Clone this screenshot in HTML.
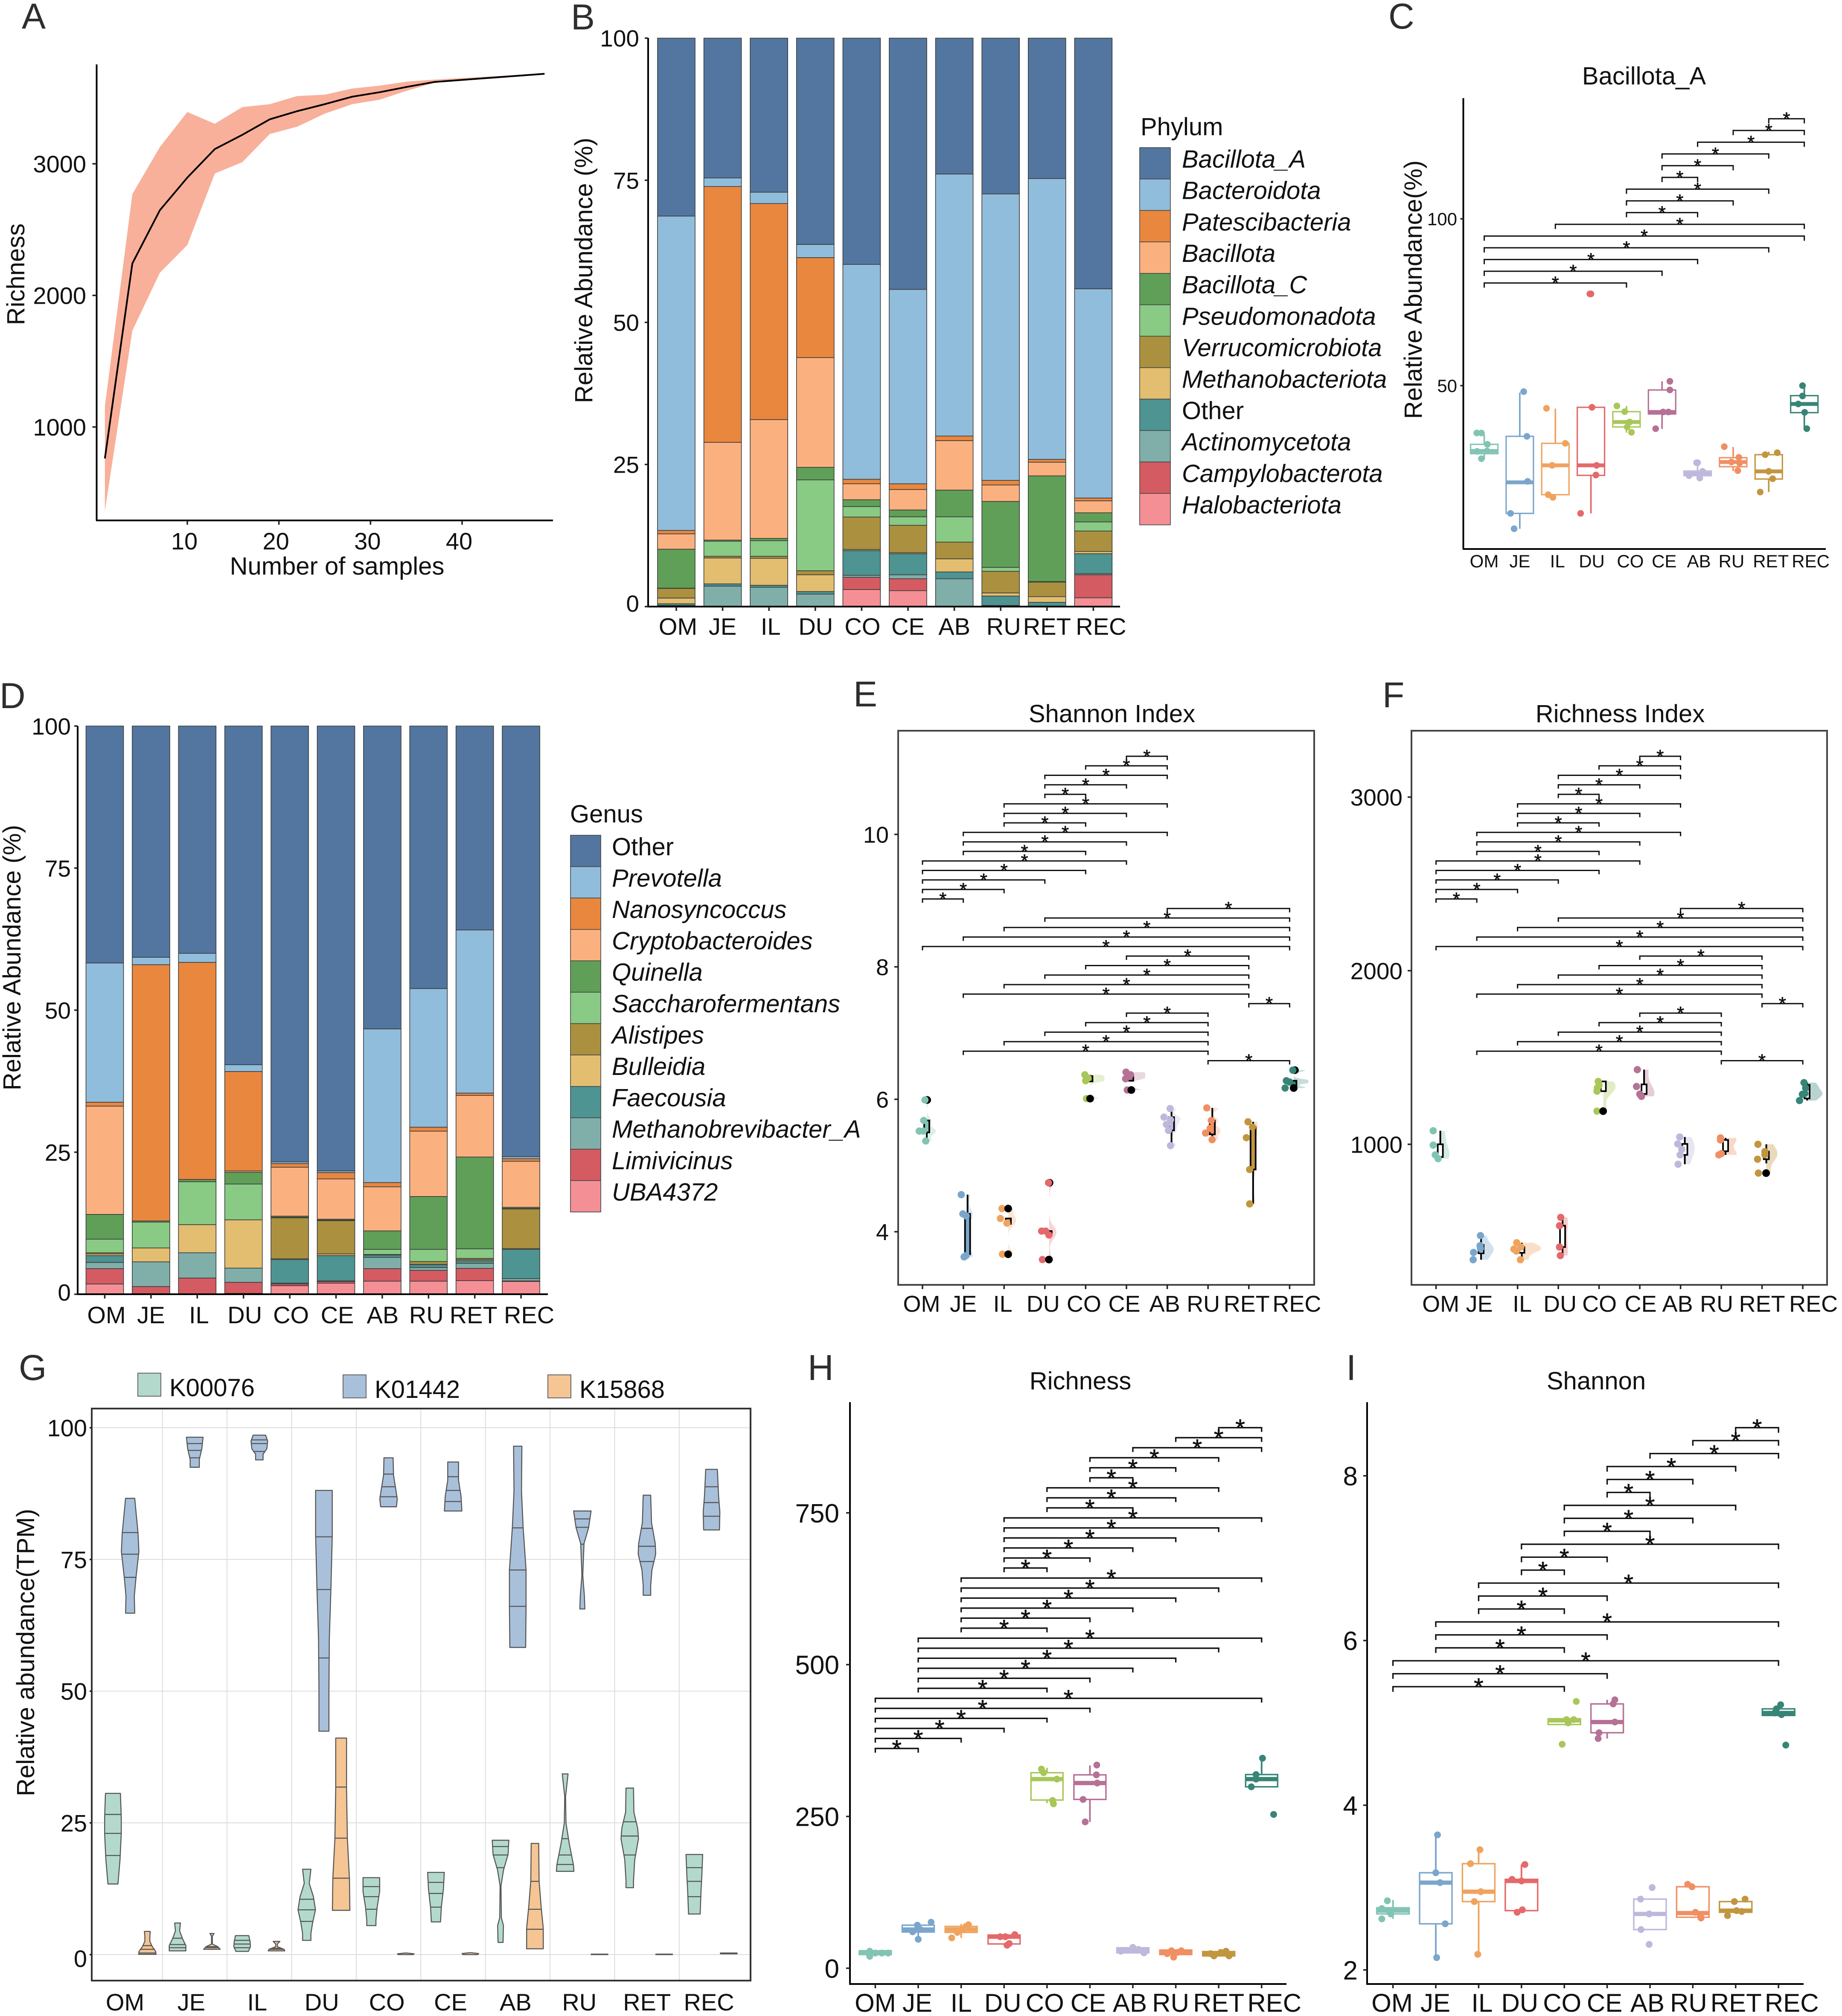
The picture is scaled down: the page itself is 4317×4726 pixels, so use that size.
<!DOCTYPE html>
<html lang="en">
<head>
<meta charset="utf-8">
<title>Microbiome multi-panel figure</title>
<style>
html,body{margin:0;padding:0;background:#fff;}
svg{display:block;font-family:"Liberation Sans",sans-serif;}
.letter{font-size:84px;fill:#2e2e2e;}
.ttl{font-size:58px;fill:#111;text-anchor:middle;}
</style>
</head>
<body>
<svg id="figure" width="4317" height="4726" viewBox="0 0 4317 4726">
<rect width="4317" height="4726" fill="#fff"/>

<g id="panel-a">
<text class="letter" x="51" y="67">A</text>
<text class="ttl" x="790" y="1347">Number of samples</text>
<text class="ttl" transform="translate(57 643) rotate(-90)">Richness</text>
</g>

<g id="panel-b">
<text class="letter" x="1338" y="69">B</text>
<text class="ttl" transform="translate(1388 634) rotate(-90)">Relative Abundance (%)</text>
<text x="2673" y="317" font-size="58" fill="#111">Phylum</text>
</g>

<g id="panel-c">
<text class="letter" x="3254" y="67">C</text>
<text class="ttl" x="3853" y="198" font-size="56">Bacillota_A</text>
<text class="ttl" transform="translate(3332 679) rotate(-90)">Relative Abundance(%)</text>
</g>

<g id="panel-d">
<text class="letter" x="-1" y="1660">D</text>
<text class="ttl" transform="translate(48 2245) rotate(-90)">Relative Abundance (%)</text>
<text x="1336" y="1928" font-size="58" fill="#111">Genus</text>
</g>

<g id="panel-e">
<text class="letter" x="2000" y="1656">E</text>
<text class="ttl" x="2606" y="1693">Shannon Index</text>
</g>

<g id="panel-f">
<text class="letter" x="3240" y="1658">F</text>
<text class="ttl" x="3797" y="1693">Richness Index</text>
</g>

<g id="panel-g">
<text class="letter" x="44" y="3235">G</text>
<text class="ttl" transform="translate(80 3874) rotate(-90)">Relative abundance(TPM)</text>
</g>

<g id="panel-h">
<text class="letter" x="1893" y="3235">H</text>
<text class="ttl" x="2532" y="3257" font-size="62">Richness</text>
</g>

<g id="panel-i">
<text class="letter" x="3155" y="3235">I</text>
<text class="ttl" x="3741" y="3257" font-size="62">Shannon</text>
</g>
</svg>

<script>
/* ---------- shared ---------- */
const categories = ['OM','JE','IL','DU','CO','CE','AB','RU','RET','REC'];
const groupColors = ['#82C4B4','#7BA6CC','#EFA35E','#E5696B','#A9C759','#B67196','#BFB8DC','#F08F63','#C2963F','#378577'];

/* ---------- panel A ---------- */
const sampleCounts  = [1,4,7,10,13,16,19,22,25,28,31,34,37,49];
const richnessMean  = [761,2243,2647,2895,3112,3220,3338,3400,3453,3510,3544,3585,3622,3684];
const richnessUpper = [1158,2770,3127,3394,3304,3431,3453,3515,3525,3572,3594,3625,3640,3687];
const richnessLower = [361,1732,2172,2383,2926,3012,3226,3282,3381,3453,3487,3556,3616,3681];
const aYTicks = ['1000','2000','3000'];
const aXTicks = ['10','20','30','40'];

/* ---------- panel B: top-to-bottom legend order ---------- */
const phylumNames = ['Bacillota_A','Bacteroidota','Patescibacteria','Bacillota','Bacillota_C','Pseudomonadota','Verrucomicrobiota','Methanobacteriota','Other','Actinomycetota','Campylobacterota','Halobacteriota'];
const stackColors = ['#52769F','#91BDDC','#E9873F','#FBB17F','#609F58','#89CA85','#AB913F','#E3BE70','#4D9492','#80AFAA','#D55B62','#F49095'];
/* each row: bottom-to-top segment percent for one category */
const phylumValues = [
 [0,0,.2,.3,1,1.7,.05,6.85,2.7,.6,55.3,31.3],
 [0,0,3.6,.4,4.55,.3,2.65,.2,17.2,45,1.5,24.6],
 [0,0,3.4,.35,4.75,.35,2.75,.4,20.9,38,2,27.1],
 [0,0,2.2,.45,2.95,.7,16,2.2,19.3,17.6,2.3,36.3],
 [3,2.15,.35,4.35,.2,5.7,1.85,1.2,2.8,.8,37.8,39.8],
 [2.8,2.1,.7,3.7,.2,4.8,1.5,1.2,3.6,1,34.2,44.2],
 [0,0,4.9,1.2,2.3,2.95,4.45,4.7,8.7,.8,46.1,23.9],
 [0,0,.2,1.65,.55,3.8,.7,11.6,2.9,.8,50.4,27.4],
 [0,0,.1,.65,1,2.55,.1,18.6,2.4,.5,49.4,24.7],
 [1.55,4.05,.2,3.5,.4,3.6,1.6,1.6,2.1,.5,36.8,44.1]
];
const percentTicks = ['0','25','50','75','100'];

/* ---------- panel C ---------- */
const cYTicks = ['50','100'];
const cBoxes = [[27.9,29.6,30.4,32.4,35.4],[7.1,11.7,21,34.8,47.9],[17.3,17.3,26.1,32.7,43.1],[11.7,23.1,26.1,43.5,43.5],[35.9,37.6,39.1,42.2,43.9],[37,41.5,42.1,48.7,51.3],[22.3,23,23.6,24.4,26.9],[24.4,25.7,27.1,28.4,31.6],[18.1,22,24.3,29.3,30.2],[37.1,41.9,44.5,47,50]];
const cPoints = [
 [[-.21,35.8],[-.08,35.8],[.09,32.4],[-.2,30.3],[-.08,28.1],[.08,30.4]],
 [[.11,48.2],[.2,34.8],[.22,21.3],[-.26,11.7],[-.16,7.1]],
 [[-.25,43.2],[.28,32.7],[-.09,26.1],[-.2,17.3],[-.07,16.5]],
 [[.03,43.5],[-.03,77.5],[0,77.5],[.16,26.1],[.14,23.2],[-.29,11.7]],
 [[-.27,43.9],[-.05,42.2],[.09,39.1],[.14,36],[.02,37.6]],
 [[.22,51.3],[.22,48.7],[.18,42.1],[.03,42.1],[-.18,37.1]],
 [[-.03,26.9],[0,26.9],[-.24,23],[.06,22.3],[.14,24.3]],
 [[-.25,31.7],[.16,28.5],[.18,26.8],[.13,24.5],[-.05,27.1]],
 [[-.1,29.3],[.24,29.9],[0,24.3],[.11,22.1],[-.24,18.1]],
 [[-.05,50],[-.05,46.9],[-.17,44.5],[.01,42],[.07,37.1]]
];
const cBrackets = [[0,4],[0,5],[0,6],[0,8],[0,9],[2,9],[4,6],[4,7],[4,8],[5,6],[5,7],[5,8],[6,9],[7,9],[8,9]];

/* ---------- panel D ---------- */
const genusNames = ['Other','Prevotella','Nanosyncoccus','Cryptobacteroides','Quinella','Saccharofermentans','Alistipes','Bulleidia','Faecousia','Methanobrevibacter_A','Limivicinus','UBA4372'];
const genusValues = [
 [1.8,2.7,1.1,1.2,.3,.2,2.4,4.35,19.05,.7,24.5,41.7],
 [.1,1.25,4.35,0,2.45,0,4.55,.2,0,45.1,1.3,40.7],
 [0,2.85,4.45,0,4.95,0,7.55,.4,0,38.2,1.6,40],
 [.15,1.95,2.5,0,8.5,0,6.3,2.05,.25,17.5,1.2,59.6],
 [1.5,.3,.15,4.15,.15,7.2,.1,.2,8.6,.65,.3,76.7],
 [1.95,.3,.1,4.45,.3,5.85,.1,.15,7.1,1.1,.3,78.3],
 [2.3,2.2,2,.4,.05,.05,.9,3.25,7.75,.75,27.05,53.3],
 [2.3,1.9,.5,.5,.05,.5,2.15,9.3,11.5,.7,24.4,46.2],
 [2.4,2.15,.9,.45,.2,.2,1.7,16.15,10.85,.4,28.7,35.9],
 [2.25,.1,.4,5.15,.15,6.95,.1,.2,8.1,.45,.35,75.8]
];

/* ---------- panel E ---------- */
const eYTicks = ['4','6','8','10'];
const eBoxes = [[5.37,5.5,5.61,5.68,5.68],[3.62,3.66,4.2,4.27,4.56],[4.12,4.12,4.2,4.2,4.2],[3.95,3.95,4,4.01,4.01],[6.27,6.27,6.3,6.35,6.37],[6.28,6.28,6.33,6.37,6.41],[5.3,5.53,5.62,5.73,5.86],[5.39,5.47,5.56,5.68,5.87],[4.42,4.94,5.42,5.58,5.66],[6.2,6.2,6.26,6.28,6.28]];
const ePoints = [
 [[.06,5.99],[.03,5.68],[-.08,5.52],[.02,5.52],[.08,5.37]],
 [[-.05,4.56],[-.01,4.27],[.07,4.24],[.02,3.62],[.07,3.64]],
 [[-.05,4.35],[-.09,4.2],[.07,4.13],[-.04,3.66]],
 [[.09,4.74],[-.08,4.01],[.02,4.01],[.1,3.95],[-.06,3.58]],
 [[-.02,6.37],[.02,6.31],[0,6.28],[.06,6.32],[.02,6.01]],
 [[-.01,6.41],[.1,6.37],[-.02,6.31],[.06,6.35],[.02,6.14]],
 [[.07,5.86],[-.08,5.73],[.08,5.69],[-.02,5.62],[.03,5.53],[.08,5.3]],
 [[-.03,5.87],[.08,5.68],[.05,5.56],[-.06,5.49],[.1,5.39]],
 [[-.02,5.66],[.09,5.58],[-.06,5.42],[.02,4.94],[.02,4.42]],
 [[.08,6.44],[-.08,6.28],[0,6.26],[-.11,6.17]]
];
const eUnderOutliers = [[[.115,5.99]],[],[],[[.115,4.74]],[],[],[],[],[],[[.13,6.44]]];
const eOutliers = [[],[],[[.1,4.35],[.1,3.66]],[[.1,3.58]],[[.11,6.01]],[[.12,6.14]],[],[],[],[[.1,6.17]]];
const fSigBrackets = [[7,9],[1,7],[2,7],[3,7],[4,7],[5,7],[8,9],[1,8],[2,8],[3,8],[4,8],[5,8],[0,9],[1,9],[2,9],[3,9],[6,9],[0,1],[0,2],[0,3],[0,4],[0,5],[1,4],[1,5],[1,6],[2,4],[2,5],[2,6],[3,4],[3,5],[3,6],[4,6],[5,6]];

/* ---------- panel F ---------- */
const fYTicks = ['1000','2000','3000'];
const fBoxes = [[917,927,950,1000,1078],[335,372,395,420,455],[335,375,400,408,433],[359,408,470,531,579],[1306,1306,1325,1362,1362],[1276,1290,1333,1345,1430],[885,939,971,1002,1042],[939,960,990,1025,1037],[890,914,940,958,1000],[1252,1264,1290,1342,1355]];
const fPoints = [
 [[-.07,1078],[-.07,995],[-.02,939],[.05,917]],
 [[.09,474],[.08,416],[-.08,377],[.09,400],[-.09,335]],
 [[-.02,433],[-.09,396],[-.03,385],[.08,408],[.07,335]],
 [[.06,579],[.03,531],[.03,408],[.05,359]],
 [[-.02,1362],[-.04,1325],[-.05,1306],[0,1340],[-.05,1191]],
 [[-.06,1430],[-.08,1333],[.04,1276],[0,1289]],
 [[-.02,1042],[-.07,1002],[.03,971],[-.01,939],[-.06,885]],
 [[-.02,1037],[0,946],[-.06,939],[-.02,1025]],
 [[-.1,1000],[.07,958],[-.11,914],[.07,940],[-.09,834]],
 [[.03,1355],[.07,1325],[-.01,1288],[-.08,1252],[.05,1292]]
];
const fUnderOutliers = [[],[],[],[],[],[],[],[],[],[]];
const fOutliers = [[],[],[],[],[[.1,1191]],[],[],[],[[.1,834]],[]];

/* ---------- panel G: [value, relative half width] pairs ---------- */
const geneNames = ['K00076','K01442','K15868'];
const geneColors = ['#B3D9CD','#A9C0DB','#F5C594'];
const gYTicks = ['0','25','50','75','100'];
const k00076Profiles = [
 [[30.6,.9],[26,1],[23,1],[18,.85],[13.4,.6]],
 [[6,.35],[4.5,.25],[3,.6],[1.7,1],[.7,1]],
 [[3.6,.8],[2.5,.95],[1.5,1],[.6,.75]],
 [[16.2,.5],[13.5,.3],[11,.8],[8.5,1.05],[6,.7],[4,.5],[2.7,.5]],
 [[14.6,1],[12,1],[9,.7],[6.5,.55],[5.5,.55]],
 [[15.6,1],[12.5,.9],[9,.65],[6.2,.55]],
 [[21.7,1],[19,.9],[16,.35],[13,.05],[7,.1],[5.5,.35],[2.3,.3]],
 [[34.3,.35],[30,.05],[25,.1],[21,.5],[17,1],[15.8,1.05]],
 [[31.6,.45],[27,.5],[24,.95],[22,1.05],[18,.6],[14,.45],[12.7,.45]],
 [[19,1],[15,.9],[12,.8],[7.7,.7]]
];
const k00076Quartiles = [[26.6,23,18.8],[3.1,1.9,1.3],[2.7,2,1.3],[10.5,8.5,6.3],[12.9,11,8.6],[13.7,11.6,9],[20.5,18.9,16.5],[22,18.9,17.1],[25.2,22.5,18.9],[16.5,13.9,11]];
const k01442Profiles = [
 [[86.6,.55],[80,.95],[76.5,1.05],[71.5,.7],[68,.5],[64.8,.55]],
 [[98.2,1],[96,.85],[94,.55],[92.5,.55]],
 [[98.6,.75],[97.5,1],[96,.9],[95,.45],[93.9,.45]],
 [[88.1,1],[79.5,1],[70,.85],[60,.65],[50,.6],[42.4,.6]],
 [[94.3,.55],[91,.6],[88,.9],[86.5,1.05],[85,.95]],
 [[93.5,.65],[90,.65],[87,.95],[84.2,1.05]],
 [[96.5,.5],[88,.45],[81,.65],[73,1],[66,1],[58.3,.95]],
 [[84.2,1.05],[81,.75],[78,.2],[72,.05],[68,.25],[65.6,.3]],
 [[87.2,.45],[82,.55],[78,1],[76,1.05],[73,.6],[70,.45],[68.2,.45]],
 [[92.1,.7],[87,.85],[84,1],[80.6,.95]]
];
const k01442Quartiles = [[80.1,76,71.6],[97,95.7,94.3],[97.7,97,95.5],[79.3,69.3,56.3],[91.2,88.8,86.9],[90.7,88.1,86],[81,73,66.1],[82.7,81.1,77.9],[80.9,77.5,74.6],[88.8,85.8,83.2]];
const k15868Profiles = [
 [[4.4,.35],[3.5,.3],[2.5,.3],[1.5,.6],[.6,1],[.05,1.05]],
 [[4,.25],[3.5,.05],[2,.05],[1.5,.7],[1,1]],
 [[2.5,.4],[2,.1],[1.5,.1],[1,.9],[.7,1]],
 [[41.1,.65],[31.5,.65],[22,.75],[14.4,1],[8.4,1.05]],
 [[.3,.1],[.15,1],[0,.9]],
 [[.35,.1],[.2,1],[0,.9]],
 [[21.1,.45],[14,.5],[9,.75],[5,1],[1.1,1]],
 [[.08,1],[0,1]],
 [[.08,1],[0,1]],
 [[.3,1],[.15,1]]
];
const k15868Quartiles = [[1.7,1,.3],[1.5,1.3],[1.2,1],[31.8,22.1,14.5],[],[],[13.9,8.6,4.8],[],[],[]];

/* ---------- panel H ---------- */
const hYTicks = ['0','250','500','750'];
const hBoxes = [[20,22.5,25.3,28.8,29],[47.7,59.6,63.8,70.9,75.8],[50,59,63.8,68.8,73],[37.9,40,51.9,54.7,55.4],[272,277,311.5,322,330],[241,278,305,318.5,334],[25,25.3,29.5,33.7,34.4],[18.2,22.5,26,30,30],[20.3,20.3,24,27.4,28],[298.8,298.8,311.5,319,345.9]];
const hPoints = [
 [[-.13,28],[-.13,19.6],[0,25],[.15,25],[.3,25]],
 [[-.02,70.9],[.3,75.8],[-.13,60],[0,47.7],[.05,63.8]],
 [[.17,71.6],[.11,68.8],[-.09,59],[-.22,50],[.03,63.8]],
 [[-.09,51.9],[.25,55.4],[.03,51.9],[.07,37.9],[.12,40.7]],
 [[-.13,328],[-.08,322],[.23,311.5],[.13,276.4],[.15,270.8]],
 [[.16,334.7],[.15,318.5],[.17,305],[-.16,278],[-.11,241]],
 [[0,34.4],[-.15,29.5],[.13,31],[.26,25.3],[-.28,28]],
 [[-.1,28.8],[.13,28.8],[-.05,18.2],[-.2,24],[.03,26]],
 [[.17,28],[.05,26],[-.11,20.3],[.24,20.3],[-.19,24]],
 [[.02,345.9],[-.13,319],[-.13,311.5],[-.24,298.8],[.28,253.3]]
];
const hBrackets = [[0,1],[0,2],[0,3],[0,4],[0,5],[0,9],[1,4],[1,5],[1,6],[1,7],[1,8],[1,9],[2,4],[2,5],[2,6],[2,7],[2,8],[2,9],[3,4],[3,5],[3,6],[3,7],[3,8],[3,9],[4,6],[4,7],[4,8],[5,6],[5,7],[5,8],[6,9],[7,9],[8,9]];

/* ---------- panel I ---------- */
const iYTicks = ['2','4','6','8'];
const iBoxes = [[2.62,2.68,2.72,2.755,2.85],[2.15,2.56,3.06,3.18,3.64],[2.19,2.83,2.95,3.29,3.46],[2.7,2.72,3.08,3.1,3.28],[4.98,4.98,5.03,5.05,5.05],[4.81,4.88,5.01,5.23,5.28],[2.49,2.49,2.68,2.86,2.86],[2.63,2.64,2.69,3.01,3.01],[2.7,2.7,2.72,2.83,2.83],[5.09,5.09,5.12,5.17,5.17]];
const iPoints = [
 [[-.13,2.84],[-.26,2.745],[-.26,2.62],[-.05,2.68],[-.09,2.72]],
 [[.04,3.64],[0,3.18],[.1,3.06],[.22,2.56],[.02,2.15]],
 [[.03,3.46],[-.19,3.29],[.05,2.95],[-.1,2.83],[-.02,2.19]],
 [[.08,3.28],[-.22,3.1],[0,3.08],[.02,2.73],[-.1,2.7]],
 [[.28,5.26],[.22,5.04],[.09,5],[-.05,4.74],[.05,5.04]],
 [[.18,5.28],[.14,5.23],[.18,5.01],[-.19,4.88],[-.21,4.81]],
 [[.05,3],[-.22,2.86],[-.02,2.68],[-.21,2.49],[-.02,2.31]],
 [[-.12,3.04],[-.02,3.01],[.06,2.7],[.19,2.63],[.18,2.66]],
 [[.22,2.86],[-.03,2.83],[.14,2.71],[-.19,2.66],[.02,2.72]],
 [[.05,5.22],[-.05,5.17],[.07,5.1],[.17,4.73],[-.09,5.12]]
];
const iBrackets = [[0,4],[0,5],[0,9],[1,4],[1,5],[1,9],[2,4],[2,5],[2,9],[3,4],[3,5],[3,9],[4,6],[4,7],[4,8],[5,6],[5,7],[5,8],[6,9],[7,9],[8,9]];

/* ---------- helpers ---------- */
const svgNS = document.getElementById('figure').namespaceURI;
function add(parent, tag, attrs, text) {
  const e = document.createElementNS(svgNS, tag);
  for (const k in attrs) e.setAttribute(k, attrs[k]);
  if (text !== undefined) e.textContent = text;
  parent.appendChild(e);
  return e;
}
function linear(d0, d1, r0, r1) { return v => r0 + (v - d0) * (r1 - r0) / (d1 - d0); }
function panel(id) { return document.getElementById(id); }

function axisLine(g, x1, y1, x2, y2, name, stroke, w) {
  const l = add(g, 'line', {x1:x1, y1:y1, x2:x2, y2:y2, stroke:stroke || '#000', 'stroke-width':w || 4});
  
  
}
function yTicks(g, labels, scale, axisX, labelRight, fs, tickLen, zeroShift) {
  labels.forEach(lab => {
    const y = scale(Number(lab));
    const t = add(g, 'line', {x1:axisX - tickLen, x2:axisX, y1:y, y2:y, stroke:'#222', 'stroke-width':3.5});
    
    
    const shift = Number(lab) === 0 ? (zeroShift || 0) : 0;
    const s = add(g, 'text', {x:labelRight, y:y + fs * .36 + shift, 'text-anchor':'end', 'font-size':fs, fill:'#111'}, lab);
    
    
  });
}
function xCategoryAxis(g, center, axisY, baseline, fs, tickLen, nudges) {
  categories.forEach((c, i) => {
    const x = center(i);
    if (tickLen > 0) {
      const t = add(g, 'line', {x1:x, x2:x, y1:axisY, y2:axisY + tickLen, stroke:'#222', 'stroke-width':3.5});
      
      
    }
    const s = add(g, 'text', {x:x + nudges[i], y:baseline, 'text-anchor':'middle', 'font-size':fs, fill:'#111'}, c);
    
    
  });
}
function stackedBars(g, rows, center, barW, y) {
  rows.forEach((row, i) => {
    let cum = 0;
    row.forEach((v, k) => {
      if (v <= 0) return;
      const top = y(cum + v), bottom = y(cum);
      const r = add(g, 'rect', {x:center(i) - barW / 2, y:top, width:barW, height:bottom - top,
        fill:stackColors[stackColors.length - 1 - k], stroke:'#3a3a3a', 'stroke-width':1.6});
      
      
      cum += v;
    });
  });
}
function legend(g, names, plainIndex, x, y0, step, w, textX) {
  names.forEach((n, i) => {
    const r = add(g, 'rect', {x:x, y:y0 + i * step, width:w, height:step, fill:stackColors[i], stroke:'#444', 'stroke-width':1.6});
    
    
    const t = add(g, 'text', {x:textX, y:y0 + i * step + step / 2 + 10, 'font-size':58, fill:'#111',
      'font-style': i === plainIndex ? 'normal' : 'italic'}, n);
    
    
  });
}
function brackets(g, pairs, center, y0, step, tip, fs, starOffset, w) {
  pairs.forEach((p, i) => {
    const x1 = center(p[0]), x2 = center(p[1]), y = y0 - i * step;
    const b = add(g, 'path', {d:`M${x1} ${y + tip}V${y}H${x2}V${y + tip}`, fill:'none', stroke:'#111', 'stroke-width':w});
    
    
    const s = add(g, 'text', {x:(x1 + x2) / 2, y:y + starOffset, 'text-anchor':'middle', 'font-size':fs, fill:'#111', stroke:'#111', 'stroke-width':.8}, '*');
    
    
  });
}
function boxPlots(g, boxes, points, center, y, step, boxW, strokeW, medW, r) {
  boxes.forEach((b, i) => {
    const x = center(i), col = groupColors[i];
    const wh = add(g, 'path', {d:`M${x} ${y(b[0])}V${y(b[1])}M${x} ${y(b[3])}V${y(b[4])}`, stroke:col, 'stroke-width':strokeW + .5, fill:'none'});
    
    
    const q = add(g, 'rect', {x:x - boxW / 2, y:y(b[3]), width:boxW, height:y(b[1]) - y(b[3]), fill:'none', stroke:col, 'stroke-width':strokeW});
    
    
    const m = add(g, 'line', {x1:x - boxW / 2, x2:x + boxW / 2, y1:y(b[2]), y2:y(b[2]), stroke:col, 'stroke-width':medW});
    
    
    points[i].forEach(p => {
      const c = add(g, 'circle', {cx:x + p[0] * step, cy:y(p[1]), r:r, fill:col});
      
      
    });
  });
}
function density(vals, v, bwFactor) {
  const n = vals.length, mean = vals.reduce((a, b) => a + b, 0) / n;
  const sd = Math.sqrt(vals.reduce((a, b) => a + (b - mean) * (b - mean), 0) / Math.max(1, n - 1)) || 1e-6;
  const bw = bwFactor * sd * Math.pow(n, -.2);
  let d = 0;
  vals.forEach(x => { const u = (v - x) / bw; d += Math.exp(-.5 * u * u); });
  return d / (n * bw * Math.sqrt(2 * Math.PI));
}
function raincloud(g, boxes, points, under, outliers, center, y, step, kWidth, bwFactor, cap, opacity, boxFill) {
  boxes.forEach((b, i) => {
    const x = center(i), col = groupColors[i];
    const vals = points[i].map(p => p[1]);
    const lo = Math.min.apply(null, vals), hi = Math.max.apply(null, vals), base = x + 10;
    let d = `M${base} ${y(lo)}`;
    for (let s = 0; s <= 40; s++) {
      const v = lo + (hi - lo) * s / 40;
      d += `L${base + Math.min(cap, kWidth * density(vals, v, bwFactor))} ${y(v)}`;
    }
    d += `L${base} ${y(hi)}Z`;
    const vi = add(g, 'path', {d:d, fill:col, 'fill-opacity':opacity, stroke:'none'});
    
    
    const wh = add(g, 'path', {d:`M${x + 10} ${y(b[0])}V${y(b[4])}`, stroke:'#000', 'stroke-width':4});
    
    
    const q = add(g, 'rect', {x:x + 4, y:y(b[3]), width:12, height:y(b[1]) - y(b[3]), fill:boxFill ? col : '#fff', stroke:'#000', 'stroke-width':3.8});
    
    
    under[i].forEach(p => {
      const o = add(g, 'circle', {cx:x + p[0] * step, cy:y(p[1]), r:9, fill:'#000'});
      
      
    });
    points[i].forEach(p => {
      const c = add(g, 'circle', {cx:x + p[0] * step, cy:y(p[1]), r:8.5, fill:col});
      
      
    });
    outliers[i].forEach(p => {
      const o = add(g, 'circle', {cx:x + p[0] * step, cy:y(p[1]), r:9, fill:'#000'});
      
      
    });
  });
}

/* ---------- draw A ---------- */
(function () {
  const g = panel('panel-a');
  const x = linear(10, 40, 439, 1083), y = linear(1000, 3000, 1001, 384);
  let ribbon = 'M';
  sampleCounts.forEach((s, i) => { ribbon += (i ? 'L' : '') + x(s) + ' ' + y(richnessUpper[i]); });
  for (let i = sampleCounts.length - 1; i >= 0; i--) ribbon += 'L' + x(sampleCounts[i]) + ' ' + y(richnessLower[i]);
  const rb = add(g, 'path', {d:ribbon + 'Z', fill:'#F8B09A'});
  
  
  const ln = add(g, 'path', {d:'M' + sampleCounts.map((s, i) => x(s) + ' ' + y(richnessMean[i])).join('L'), fill:'none', stroke:'#000', 'stroke-width':4});
  
  
  axisLine(g, 226.5, 151, 226.5, 1220, 'y-axis-line');
  axisLine(g, 225, 1220, 1296, 1220, 'x-axis-line');
  yTicks(g, aYTicks, y, 226.5, 202, 56, 10);
  aXTicks.forEach(lab => {
    const px = x(Number(lab));
    const t = add(g, 'line', {x1:px, x2:px, y1:1220, y2:1230, stroke:'#222', 'stroke-width':3.5});
    
    
    const s = add(g, 'text', {x:px - 7, y:1288, 'text-anchor':'middle', 'font-size':56, fill:'#111'}, lab);
    
    
  });
})();

/* ---------- draw B ---------- */
(function () {
  const g = panel('panel-b');
  const y = linear(0, 100, 1422, 89.4), cx = i => 1585 + 108.6 * i;
  stackedBars(g, phylumValues, cx, 88, y);
  axisLine(g, 1519, 89, 1519, 1424, 'y-axis-line');
  axisLine(g, 1517, 1422, 2625, 1422, 'x-axis-line');
  yTicks(g, percentTicks, y, 1519, 1498, 55, 8, -8);
  xCategoryAxis(g, cx, 1422, 1488, 56, 10, [4,0,4,1,2,0,0,7,0,18]);
  legend(g, phylumNames, 8, 2671, 346, 73.7, 72, 2770);
})();

/* ---------- draw C ---------- */
(function () {
  const g = panel('panel-c');
  const y = linear(50, 100, 904, 513), cx = i => 3478.5 + 83.35 * i;
  brackets(g, cBrackets, cx, 663.4, 27.5, 11, 44, 15, 3);
  boxPlots(g, cBoxes, cPoints, cx, y, 83.35, 64, 3.2, 9, 7.8);
  axisLine(g, 3429.5, 230, 3429.5, 1287, 'y-axis-line');
  axisLine(g, 3428, 1287, 4279, 1287, 'x-axis-line');
  yTicks(g, cYTicks, y, 3429.5, 3415, 42, 7);
  xCategoryAxis(g, cx, 1287, 1330, 42, 0, [0,0,5,2,9,5,3,-4,5,15]);
})();

/* ---------- draw D ---------- */
(function () {
  const g = panel('panel-d');
  const y = linear(0, 100, 3034, 1702), cx = i => 245.5 + 108.4 * i;
  stackedBars(g, genusValues, cx, 88, y);
  axisLine(g, 182, 1702, 182, 3036, 'y-axis-line');
  axisLine(g, 180, 3034, 1284, 3034, 'x-axis-line');
  yTicks(g, percentTicks, y, 182, 166, 55, 8, -5);
  xCategoryAxis(g, cx, 3034, 3102, 56, 10, [4,0,4,3,3,3,1,-5,-3,19]);
  legend(g, genusNames, 0, 1337, 1958, 73.6, 71, 1434);
})();

/* ---------- draw E ---------- */
(function () {
  const g = panel('panel-e');
  const y = linear(4, 10, 2887.5, 1956), cx = i => 2162 + 95.6 * i;
  const f = add(g, 'rect', {x:2105, y:1713, width:975, height:1299, fill:'none', stroke:'#444', 'stroke-width':4});
  
  
  brackets(g, fSigBrackets, cx, 2486.5, 22.3, 9, 44, 15, 3);
  raincloud(g, eBoxes, ePoints, eUnderOutliers, eOutliers, cx, y, 95.6, 7, .3, 34, .28, true);
  yTicks(g, eYTicks, y, 2105, 2083, 54, 9);
  xCategoryAxis(g, cx, 3012, 3075, 54, 10, [-2,0,-3,-4,-4,-5,-6,-11,-5,17]);
})();

/* ---------- draw F ---------- */
(function () {
  const g = panel('panel-f');
  const y = linear(1000, 3000, 2682.5, 1868.6), cx = i => 3365.6 + 95.5 * i;
  const f = add(g, 'rect', {x:3308, y:1713, width:974, height:1299, fill:'none', stroke:'#444', 'stroke-width':4});
  
  
  brackets(g, fSigBrackets, cx, 2486.5, 22.3, 9, 44, 15, 3);
  raincloud(g, fBoxes, fPoints, fUnderOutliers, fOutliers, cx, y, 95.5, 4000, .8, 48, .35, false);
  yTicks(g, fYTicks, y, 3308, 3287, 55, 9);
  xCategoryAxis(g, cx, 3012, 3075, 54, 10, [11,6,11,4,1,2,-7,-11,0,25]);
})();

/* ---------- draw G ---------- */
(function () {
  const g = panel('panel-g');
  const y = linear(0, 100, 4582, 3347), cx = i => 305 + 151.4 * i;
  gYTicks.forEach(lab => {
    const l = add(g, 'line', {x1:215, x2:1759, y1:y(Number(lab)), y2:y(Number(lab)), stroke:'#dcdcdc', 'stroke-width':2});
    
    
  });
  categories.slice(1).forEach((c, i) => {
    const px = cx(i) + 75.7;
    const l = add(g, 'line', {x1:px, x2:px, y1:3302, y2:4643, stroke:'#dcdcdc', 'stroke-width':2});
    
    
  });
  const profiles = [k00076Profiles, k01442Profiles, k15868Profiles];
  const quartiles = [k00076Quartiles, k01442Quartiles, k15868Quartiles];
  const unit = 19.5;
  profiles.forEach((set, s) => {
    set.forEach((prof, i) => {
      const x = cx(i) + (s - 1) * 40.3;
      let d = 'M' + prof.map(p => (x - p[1] * unit) + ' ' + y(p[0])).join('L');
      for (let k = prof.length - 1; k >= 0; k--) d += 'L' + (x + prof[k][1] * unit) + ' ' + y(prof[k][0]);
      const v = add(g, 'path', {d:d + 'Z', fill:geneColors[s], stroke:'#555', 'stroke-width':2.4, 'stroke-linejoin':'round'});
      
      
      quartiles[s][i].forEach(val => {
        let w = 0;
        for (let k = 0; k < prof.length - 1; k++) {
          const a = prof[k], b = prof[k + 1];
          if (val <= a[0] && val >= b[0]) w = a[1] + (b[1] - a[1]) * (a[0] - val) / (a[0] - b[0]);
        }
        const q = add(g, 'line', {x1:x - w * unit, x2:x + w * unit, y1:y(val), y2:y(val), stroke:'#555', 'stroke-width':2.4});
        
        
      });
    });
  });
  const f = add(g, 'rect', {x:215, y:3302, width:1544, height:1341, fill:'none', stroke:'#333', 'stroke-width':4});
  
  
  yTicks(g, gYTicks, y, 215, 204, 56, 5, 9);
  xCategoryAxis(g, cx, 4643, 4713, 56, 0, [-12,-8,-5,-5,-4,-6,-5,-7,0,-6]);
  const swX = [323, 804, 1284], swY = [3219, 3223, 3223];
  geneNames.forEach((n, i) => {
    const r = add(g, 'rect', {x:swX[i], y:swY[i], width:54, height:54, fill:geneColors[i], stroke:'#666', 'stroke-width':2});
    
    
    const t = add(g, 'text', {x:swX[i] + 74, y:swY[i] + 54, 'font-size':58, fill:'#111'}, n);
    
    
  });
})();

/* ---------- draw H ---------- */
(function () {
  const g = panel('panel-h');
  const y = linear(0, 750, 4614, 3546.5), cx = i => 2051.4 + 100.6 * i;
  brackets(g, hBrackets, cx, 4098.8, 23.5, 10, 58, 21, 3.3);
  boxPlots(g, hBoxes, hPoints, cx, y, 100.6, 75, 3.4, 10, 8);
  axisLine(g, 1992, 3287, 1992, 4651, 'y-axis-line');
  axisLine(g, 1990, 4651, 3015, 4651, 'x-axis-line');
  yTicks(g, hYTicks, y, 1992, 1967, 62, 9);
  xCategoryAxis(g, cx, 4651, 4716, 60, 10, [0,-2,0,-3,-5,-4,-7,-12,0,30]);
})();

/* ---------- draw I ---------- */
(function () {
  const g = panel('panel-i');
  const y = linear(2, 8, 4618, 3459.6), cx = i => 3264.6 + 100.4 * i;
  brackets(g, iBrackets, cx, 3954, 30.36, 12, 58, 21, 3.3);
  boxPlots(g, iBoxes, iPoints, cx, y, 100.4, 76, 3.4, 10, 8);
  axisLine(g, 3204, 3287, 3204, 4651, 'y-axis-line');
  axisLine(g, 3202, 4651, 4227, 4651, 'x-axis-line');
  yTicks(g, iYTicks, y, 3204, 3182, 62, 9);
  xCategoryAxis(g, cx, 4651, 4716, 60, 10, [-2,-1,8,-4,-5,-6,-6,-10,1,31]);
})();
</script>
</body>
</html>
